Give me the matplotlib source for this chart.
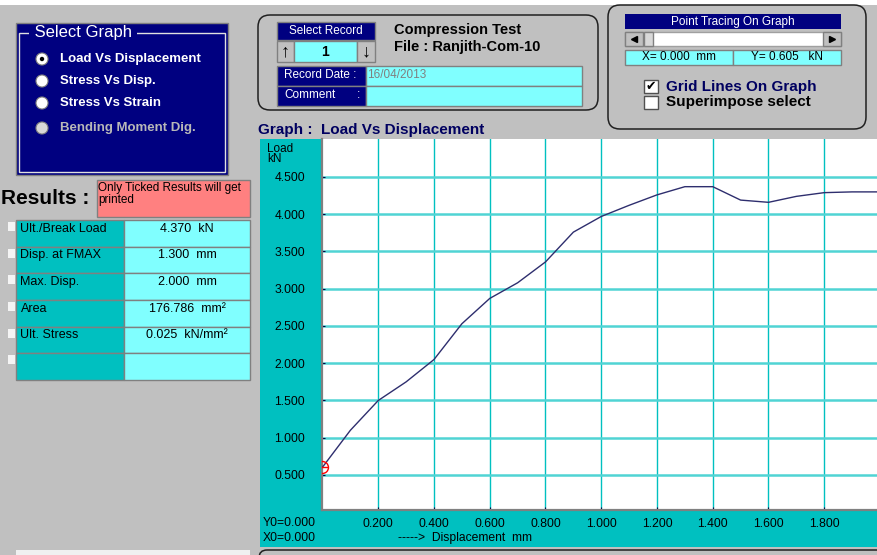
import matplotlib
matplotlib.use("Agg")
import matplotlib.pyplot as plt
from matplotlib.patches import Rectangle, FancyBboxPatch, Circle

plt.rcParams['font.family'] = ['Liberation Sans', 'DejaVu Sans']

# curve (Load vs Displacement)
disp = [0.0, 0.1, 0.2, 0.3, 0.4, 0.5, 0.6, 0.7, 0.8, 0.9, 1.0,
        1.1, 1.2, 1.3, 1.4, 1.5, 1.6, 1.7, 1.8, 1.9, 2.0]
load = [0.605, 1.10, 1.50, 1.75, 2.05, 2.53, 2.87, 3.08, 3.36, 3.76, 3.97,
        4.12, 4.26, 4.37, 4.37, 4.19, 4.16, 4.24, 4.29, 4.30, 4.30]

x_ticks = [0.2, 0.4, 0.6, 0.8, 1.0, 1.2, 1.4, 1.6, 1.8]
y_ticks = [0.5, 1.0, 1.5, 2.0, 2.5, 3.0, 3.5, 4.0, 4.5]

graph_options = ["Load Vs Displacement", "Stress Vs Disp.", "Stress Vs Strain",
                 "Bending Moment Dig."]
result_names = ["Ult./Break Load", "Disp. at FMAX", "Max. Disp.", "Area", "Ult. Stress", ""]
result_values = ["4.370  kN", "1.300  mm", "2.000  mm", "176.786  mm\u00b2",
                 "0.025  kN/mm\u00b2", ""]

NAVY = '#000080'
CYAN = '#80FFFF'
TEAL = '#00C0C0'
GRAY = '#C0C0C0'

fig = plt.figure(figsize=(8.78, 5.55), dpi=100)
fig.patch.set_facecolor(GRAY)

# full-figure canvas in pixel units for the window furniture
bg = fig.add_axes([0, 0, 1, 1])
bg.set_xlim(0, 878)
bg.set_ylim(555, 0)
bg.axis('off')


def rect(x0, y0, x1, y1, fc, ec='none', lw=1.0, z=1):
    bg.add_patch(Rectangle((x0, y0), x1 - x0, y1 - y0, facecolor=fc,
                           edgecolor=ec, linewidth=lw, zorder=z))


def rrect(x0, y0, x1, y1, r=12):
    bg.add_patch(FancyBboxPatch((x0, y0), x1 - x0, y1 - y0,
                                boxstyle="round,pad=0,rounding_size=%d" % r,
                                facecolor=GRAY, edgecolor='#202020', linewidth=1.1, zorder=1))


rect(0, 0, 878, 5, 'white')

# ---- Select Graph panel
rect(16, 23, 228, 175, NAVY, ec='#808080', z=2)
rect(19, 33, 225, 172, 'none', ec='#E0E0E0', lw=1.0, z=3)
bg.text(30, 33, " Select Graph ", color='white', fontsize=12, va='center', ha='left',
        zorder=4, bbox=dict(facecolor=NAVY, edgecolor='none', pad=0.5))
for i, (name, yy) in enumerate(zip(graph_options, [59, 81, 103, 128])):
    grey = i == 3
    bg.add_patch(Circle((42, yy), 6, facecolor='#D8D8D8' if grey else 'white',
                        edgecolor='#808080', lw=0.8, zorder=4))
    if i == 0:
        bg.add_patch(Circle((42, yy), 2.2, facecolor='black', zorder=5))
    bg.text(60, yy, name, color='#B8B8B8' if grey else 'white', fontsize=9.5,
            fontweight='bold', va='center', ha='left', zorder=5)

# ---- Select Record panel
rrect(258, 15, 598, 110)
rect(277, 22, 375, 40, NAVY, ec='#808080', z=2)
bg.text(326, 31, "Select Record", color='white', fontsize=8.5, ha='center', va='center', zorder=3)
rect(277, 41, 294, 62, GRAY, ec='#808080', z=2)
rect(294, 41, 357, 62, CYAN, ec='#808080', z=2)
rect(357, 41, 375, 62, GRAY, ec='#808080', z=2)
bg.text(285.5, 52, "\u2191", fontsize=13, fontweight='bold', ha='center', va='center', zorder=3)
bg.text(366, 52, "\u2193", fontsize=13, fontweight='bold', ha='center', va='center', zorder=3)
bg.text(325, 52, "1", fontsize=10, fontweight='bold', ha='center', va='center', zorder=3)
bg.text(394, 30, "Compression Test", fontsize=10.5, fontweight='bold', ha='left', va='center')
bg.text(394, 47.5, "File : Ranjith-Com-10", fontsize=10.5, fontweight='bold', ha='left', va='center')
rect(277, 66, 366, 86, NAVY, ec='#808080', z=2)
rect(366, 66, 582, 86, CYAN, ec='#808080', z=2)
rect(277, 86, 366, 106, NAVY, ec='#808080', z=2)
rect(366, 86, 582, 106, CYAN, ec='#808080', z=2)
bg.text(284, 75, "Record Date :", color='white', fontsize=8.5, va='center', zorder=3)
bg.text(367.5, 75, "16/04/2013", color='#808080', fontsize=8.5, va='center', zorder=3)
bg.text(284, 95, "Comment", color='white', fontsize=8.5, va='center', zorder=3)
bg.text(357, 95, ":", color='white', fontsize=8.5, va='center', zorder=3)

# ---- Point tracing panel
rrect(608, 5, 866, 129)
rect(625, 14, 841, 28.5, NAVY, z=2)
bg.text(733, 21.5, "Point Tracing On Graph", color='white', fontsize=8.5, ha='center', va='center', zorder=3)
rect(625, 32, 841, 46, 'white', ec='#A0A0A0', z=2)
rect(625, 32, 643, 46, GRAY, ec='#808080', z=3)
rect(644, 32, 653, 46, '#D8D8D8', ec='#808080', z=3)
rect(823, 32, 841, 46, GRAY, ec='#808080', z=3)
bg.plot([634], [39], marker='<', color='black', ms=4, zorder=4)
bg.plot([832], [39], marker='>', color='black', ms=4, zorder=4)
rect(625, 50, 733, 65, CYAN, ec='#808080', z=2)
rect(733, 50, 841, 65, CYAN, ec='#808080', z=2)
bg.text(679, 57.5, "X= 0.000  mm", fontsize=8.5, ha='center', va='center', zorder=3)
bg.text(787, 57.5, "Y= 0.605   kN", fontsize=8.5, ha='center', va='center', zorder=3)
rect(644, 80, 658, 93, 'white', ec='#505050', z=2)
bg.text(651, 86.5, "\u2714", fontsize=9, ha='center', va='center', zorder=3,
        family=['DejaVu Sans'])
bg.text(666, 86.5, "Grid Lines On Graph", color='#000060', fontsize=11, fontweight='bold',
        va='center', zorder=3)
rect(644, 96, 658, 109, 'white', ec='#505050', z=2)
bg.text(666, 102, "Superimpose select", color='black', fontsize=11, fontweight='bold',
        va='center', zorder=3)

# ---- Results
bg.text(1, 198, "Results :", fontsize=15, fontweight='bold', ha='left', va='center')
rect(97, 180, 250, 217, '#FF8080', ec='#808080', z=2)
bg.text(98.5, 182, "Only Ticked Results will get\nprinted", fontsize=8.5, ha='left', va='top',
        linespacing=1.05, zorder=3)
row_h = 26.67
for i, (name, val) in enumerate(zip(result_names, result_values)):
    top = 220 + i * row_h
    rect(16, top, 124, top + row_h, TEAL, ec='#808080', z=2)
    rect(124, top, 250, top + row_h, CYAN, ec='#808080', z=2)
    rect(8, top + 2, 15, top + 11, '#F4F4F4', z=2)
    bg.text(20.5, top + 8.5, name, fontsize=9, va='center', ha='left', zorder=3)
    bg.text(187, top + 8.5, val, fontsize=9, va='center', ha='center', zorder=3)

# ---- graph frame
bg.text(258, 130, "Graph :  Load Vs Displacement", color='#000060', fontsize=11,
        fontweight='bold', va='center', ha='left')
rect(260, 139, 900, 547, TEAL, z=1)
bg.text(267.5, 149, "Load", fontsize=8.5, va='center', zorder=3)
bg.text(267.5, 159.5, "kN", fontsize=8.5, va='center', zorder=3)
bg.text(263, 523, "Y0=0.000", fontsize=8.7, va='center', zorder=3)
bg.text(263, 538, "X0=0.000", fontsize=8.7, va='center', zorder=3)
bg.text(398, 538, "----->  Displacement  mm", fontsize=8.7, va='center', zorder=3)

# bottom strip
rect(16, 550, 250, 560, '#F0F0F0', z=2)
rrect(259, 550, 900, 600, r=8)

# ---- the actual plot
ax = fig.add_axes([322.5 / 878, 45 / 555, 557.5 / 878, 371 / 555])
ax.set_facecolor('white')
ax.plot(disp, load, color='#2E2E6E', lw=1.0, zorder=3)
ax.plot(disp[0], load[0], marker='o', ms=8.6, mfc='none', mec='red', mew=1.0, zorder=4)
ax.plot(disp[0], load[0], marker='_', ms=8.6, mec='red', mew=1.0, zorder=4)
ax.set_xlim(0, 2.0)
ax.set_ylim(0.03, 5.01)
ax.set_xticks(x_ticks)
ax.set_xticklabels(["%.3f" % v for v in x_ticks])
ax.set_yticks(y_ticks)
ax.set_yticklabels(["%.3f" % v for v in y_ticks])
ax.tick_params(axis='x', direction='in', length=2.5, color='#000040', pad=6, labelsize=8.7)
ax.tick_params(axis='y', direction='in', length=2.5, color='#000040', pad=12.5, labelsize=8.7)
ax.xaxis.grid(True, color='#00C0C0', lw=1.0)
ax.yaxis.grid(True, color='#50D4D4', lw=1.8)
ax.set_axisbelow(True)
for side in ['top', 'right']:
    ax.spines[side].set_visible(False)
for side in ['left', 'bottom']:
    ax.spines[side].set_color('#808080')
    ax.spines[side].set_linewidth(1.6)

fig.savefig("out.png", dpi=100, facecolor=GRAY)
